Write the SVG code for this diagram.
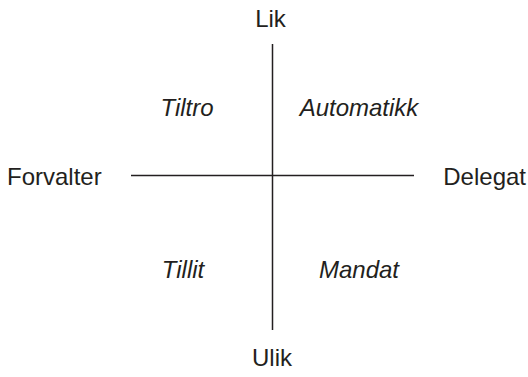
<svg xmlns="http://www.w3.org/2000/svg" width="528" height="377" viewBox="0 0 528 377">
  <style>
    text { font-family: "Liberation Sans", Arial, sans-serif; font-size: 24px; fill: #231f20; }
    .q { font-style: italic; }
    .axis { stroke: #231f20; stroke-width: 1.5; fill: none; }
  </style>
  <rect width="528" height="377" fill="#ffffff"/>
  <g id="connectors">
    <line class="axis" x1="272.5" y1="44" x2="272.5" y2="330"/>
    <line class="axis" x1="131" y1="175.5" x2="414" y2="175.5"/>
  </g>
  <g id="lik"><text x="270.5" y="27" text-anchor="middle">Lik</text></g>
  <g id="ulik"><text x="272" y="366" text-anchor="middle">Ulik</text></g>
  <g id="forvalter"><text x="7" y="185">Forvalter</text></g>
  <g id="delegat"><text x="526" y="185" text-anchor="end">Delegat</text></g>
  <g id="tiltro"><text class="q" x="187" y="116" text-anchor="middle">Tiltro</text></g>
  <g id="automatikk"><text class="q" x="359" y="116" text-anchor="middle">Automatikk</text></g>
  <g id="tillit"><text class="q" x="183" y="278" text-anchor="middle">Tillit</text></g>
  <g id="mandat"><text class="q" x="359" y="278" text-anchor="middle">Mandat</text></g>
</svg>
